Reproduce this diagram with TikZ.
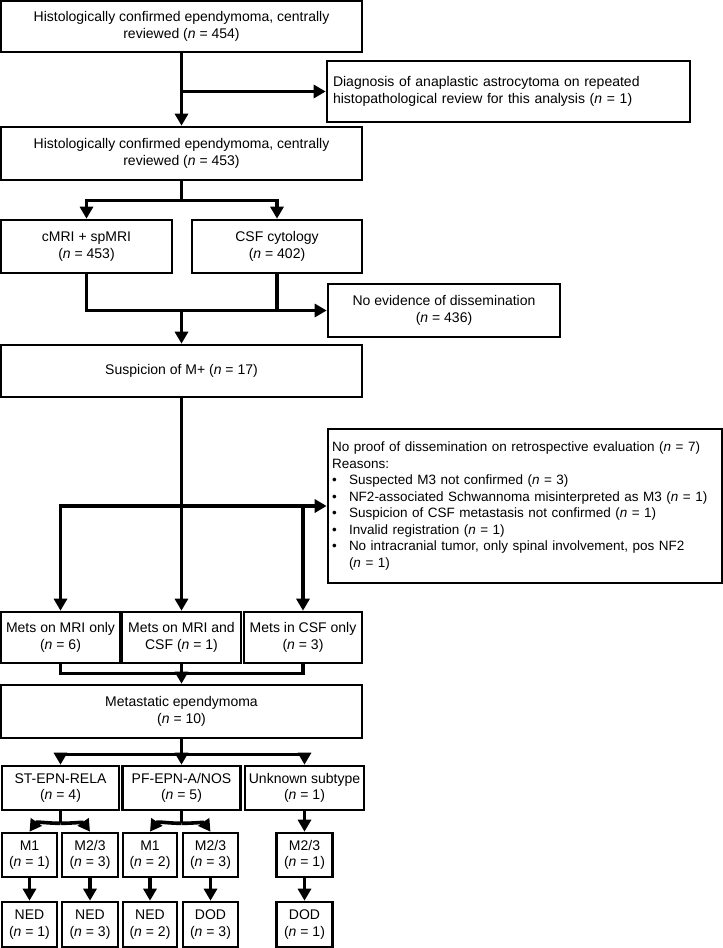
\documentclass[tikz,border=0pt]{standalone}
\usepackage{fontspec}
\setmainfont{Liberation Sans}
\usetikzlibrary{arrows.meta}

\begin{document}
\begin{tikzpicture}[x=1pt,y=-1pt,
  box/.style={draw,line width=2.6pt,align=center,inner sep=3pt,
    font=\fontsize{14}{16.5}\selectfont},
  arr/.style={line width=3.6pt,-{Triangle[width=13pt,length=12pt]}},
  link/.style={line width=3.6pt}]
  \useasboundingbox (0,0) rectangle (723,948);
  % screening
  \node[box,minimum width=361pt,minimum height=51pt] (rev454) at (181.5,26.5)
    {Histologically confirmed ependymoma, centrally\\reviewed (\textit{n} = 454)};
  \node[box,align=left,text width=351pt,minimum width=363pt,minimum height=61pt] (astro) at (508.5,91.5)
    {Diagnosis of anaplastic astrocytoma on repeated\\histopathological review for this analysis (\textit{n} = 1)};
  \node[box,minimum width=361pt,minimum height=53pt] (rev453) at (181.5,153.5)
    {Histologically confirmed ependymoma, centrally\\reviewed (\textit{n} = 453)};
  \node[box,minimum width=171pt,minimum height=53pt] (mri) at (86.5,246.5) {cMRI + spMRI\\(\textit{n} = 453)};
  \node[box,minimum width=170pt,minimum height=53pt] (cyto) at (277,246.5) {CSF cytology\\(\textit{n} = 402)};
  \node[box,minimum width=232pt,minimum height=53pt] (nodiss) at (444,310.5) {No evidence of dissemination\\(\textit{n} = 436)};
  \node[box,minimum width=361pt,minimum height=52pt] (susp) at (181.5,371) {Suspicion of M+ (\textit{n} = 17)};
  \node[box,align=left,text width=386pt,minimum width=394pt,minimum height=154pt,
    font=\fontsize{13.5}{16.5}\selectfont] (noproof) at (525,506)
    {No proof of dissemination on retrospective evaluation (\textit{n} = 7)\\
     Reasons:\\
     \makebox[17pt][l]{\textbullet}Suspected M3 not confirmed (\textit{n} = 3)\\
     \makebox[17pt][l]{\textbullet}NF2-associated Schwannoma misinterpreted as M3 (\textit{n} = 1)\\
     \makebox[17pt][l]{\textbullet}Suspicion of CSF metastasis not confirmed (\textit{n} = 1)\\
     \makebox[17pt][l]{\textbullet}Invalid registration (\textit{n} = 1)\\
     \makebox[17pt][l]{\textbullet}No intracranial tumor, only spinal involvement, pos NF2\\
     \hspace*{17pt}(\textit{n} = 1)};
  % metastases
  \node[box,minimum width=119pt,minimum height=51pt] (metmri) at (60.5,637.5) {Mets on MRI only\\(\textit{n} = 6)};
  \node[box,minimum width=119pt,minimum height=51pt] (metboth) at (181.5,637.5) {Mets on MRI and\\CSF (\textit{n} = 1)};
  \node[box,minimum width=118pt,minimum height=51pt] (metcsf) at (303,637.5) {Mets in CSF only\\(\textit{n} = 3)};
  \node[box,minimum width=361pt,minimum height=53pt] (metast) at (181.5,711.5) {Metastatic ependymoma\\(\textit{n} = 10)};
  % subtypes
  \node[box,minimum width=117pt,minimum height=44pt] (rela) at (60.5,788) {ST-EPN-RELA\\(\textit{n} = 4)};
  \node[box,minimum width=118pt,minimum height=44pt] (pfa) at (181.5,788) {PF-EPN-A/NOS\\(\textit{n} = 5)};
  \node[box,minimum width=119pt,minimum height=44pt] (unknown) at (304.5,788) {Unknown subtype\\(\textit{n} = 1)};
  % M stage
  \node[box,minimum width=55pt,minimum height=44pt] (relaMa) at (29.5,855) {M1\\(\textit{n} = 1)};
  \node[box,minimum width=56pt,minimum height=44pt] (relaMb) at (90,855) {M2/3\\(\textit{n} = 3)};
  \node[box,minimum width=54pt,minimum height=44pt] (pfaMa) at (150,855) {M1\\(\textit{n} = 2)};
  \node[box,minimum width=55pt,minimum height=44pt] (pfaMb) at (210.5,855) {M2/3\\(\textit{n} = 3)};
  \node[box,minimum width=56pt,minimum height=44pt] (unknownM) at (304.5,855) {M2/3\\(\textit{n} = 1)};
  % outcome
  \node[box,minimum width=55pt,minimum height=45pt] (relaOa) at (29.5,924.5) {NED\\(\textit{n} = 1)};
  \node[box,minimum width=56pt,minimum height=45pt] (relaOb) at (90,924.5) {NED\\(\textit{n} = 3)};
  \node[box,minimum width=54pt,minimum height=45pt] (pfaOa) at (150,924.5) {NED\\(\textit{n} = 2)};
  \node[box,minimum width=55pt,minimum height=45pt] (pfaOb) at (210.5,924.5) {DOD\\(\textit{n} = 3)};
  \node[box,minimum width=56pt,minimum height=45pt] (unknownO) at (304.5,924.5) {DOD\\(\textit{n} = 1)};

  % connectors
  \draw[arr] (rev454) -- (rev453);
  \draw[arr] (rev454.south |- astro.west) -- (astro.west);
  \draw[link] (rev453.south) -- ++(0,19) coordinate (imaging);
  \draw[arr] (imaging) -| (mri.north);
  \draw[arr] (imaging) -| (cyto.north);
  \draw[arr] (mri.south) |- (nodiss.west);
  \draw[link] (cyto.south) -- (cyto.south |- nodiss.west);
  \draw[arr] (susp.north |- nodiss.west) -- (susp.north);
  \draw[arr] (susp) -- (metboth);
  \draw[arr] (susp.south |- noproof.west) -- (noproof.west);
  \draw[arr] (susp.south |- noproof.west) -| (metmri.north);
  \draw[arr] (susp.south |- noproof.west) -| (metcsf.north);
  \draw[link] (metmri.south) -- ++(0,9) -| (metcsf.south);
  \draw[arr] (metboth) -- (metast);
  \draw[link] (metast.south) -- ++(0,15) coordinate (subtype);
  \draw[arr] (subtype) -| (rela.north);
  \draw[arr] (subtype) -| (unknown.north);
  \draw[arr] (subtype) -- (pfa.north);
  \draw[link] (rela.south) -- ++(0,12) coordinate (relaJ);
  \draw[arr] (relaJ) to[out=180,in=55] (relaMa.north);
  \draw[arr] (relaJ) to[out=0,in=125] (relaMb.north);
  \draw[link] (pfa.south) -- ++(0,12) coordinate (pfaJ);
  \draw[arr] (pfaJ) to[out=180,in=55] (pfaMa.north);
  \draw[arr] (pfaJ) to[out=0,in=125] (pfaMb.north);
  \draw[arr] (unknown) -- (unknownM);
  \draw[arr] (relaMa) -- (relaOa);
  \draw[arr] (relaMb) -- (relaOb);
  \draw[arr] (pfaMa) -- (pfaOa);
  \draw[arr] (pfaMb) -- (pfaOb);
  \draw[arr] (unknownM) -- (unknownO);
\end{tikzpicture}
\end{document}
